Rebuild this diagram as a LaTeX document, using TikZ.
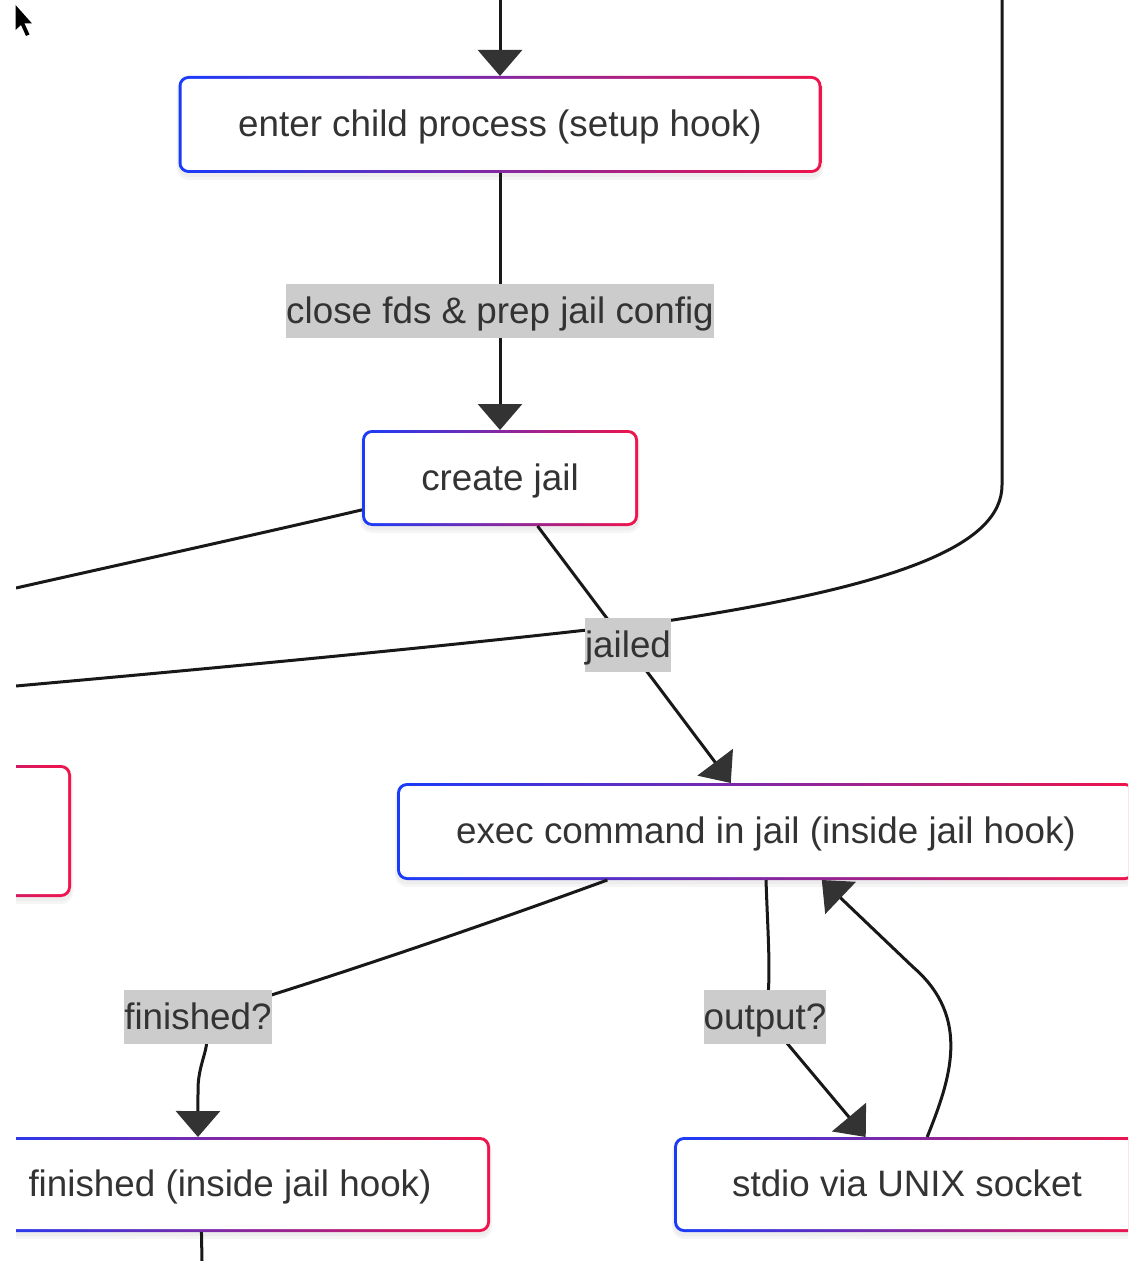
\documentclass[tikz,border=0pt]{standalone}
\usepackage{fontspec}
\setmainfont{Liberation Sans}
\usetikzlibrary{arrows.meta,backgrounds}

\definecolor{gblue}{RGB}{25,60,250}
\definecolor{gred}{RGB}{240,20,75}
\definecolor{txt}{RGB}{51,51,51}
\definecolor{edgec}{RGB}{24,24,24}
\definecolor{tipc}{RGB}{51,51,51}
\definecolor{lblbg}{RGB}{204,204,204}
\newcommand{\flowfont}{\fontsize{18.4pt}{27pt}\selectfont}

\tikzset{
  % rounded box with a blue-to-red gradient outline
  gbox/.style={rounded corners=5pt, inner sep=0pt, outer sep=0pt, fill=white,
    text=txt, font=\flowfont, text height=16pt, text depth=3.8pt,
    path picture={
      \shade[left color=gblue, right color=gred]
        (path picture bounding box.south west) rectangle (path picture bounding box.north east);
      \fill[white, rounded corners=3.6pt]
        ([shift={(1.5pt,1.5pt)}]path picture bounding box.south west) rectangle
        ([shift={(-1.5pt,-1.5pt)}]path picture bounding box.north east);
    }},
  link/.style={draw=edgec, line width=1.5pt},
  arr/.style={link, -{Triangle[length=13pt,width=22pt,color=tipc]}},
  lbl/.style={fill=lblbg, inner sep=0pt, minimum height=27pt, text=txt, font=\flowfont,
    text height=16pt, text depth=3.8pt},
}

\begin{document}
\begin{tikzpicture}[x=0.5pt,y=-0.5pt]
\useasboundingbox (0,0) rectangle (1128,1261);

\begin{scope}
\clip (16,0) rectangle (1128,1261);

% process boxes
\node[gbox, minimum width=321.5pt, minimum height=48.5pt] (A) at (500,124.5) {enter child process (setup hook)};
\node[gbox, minimum width=138pt, minimum height=48pt] (B) at (500,478) {create jail};
\node[gbox, minimum width=221pt, minimum height=66pt] (C) at (-150,831) {};
\node[gbox, minimum width=369pt, minimum height=48.5pt] (D) at (766,831.5) {exec command in jail (inside jail hook)};
\node[gbox, minimum width=260pt, minimum height=47.5pt] (E) at (230,1184.5) {finished (inside jail hook)};
\node[gbox, minimum width=233pt, minimum height=47.5pt] (F) at (907,1184.5) {stdio via UNIX socket};

% free ends and label anchors
\coordinate (topin) at (500,0);
\coordinate (rtop) at (1002,0);
\coordinate (rbend) at (1002,485);
\coordinate (rjoin) at (673,620);
\coordinate (lout1) at (16,588);
\coordinate (lout2) at (16,686);
\coordinate (ebot) at (202,1261);
\coordinate (l1) at (500,311);
\coordinate (l2) at (628,645);
\coordinate (l3) at (198,1017);
\coordinate (l4) at (765,1017);

% connectors
\draw[arr] (topin) -- (A.north);
\draw[arr] (A.south) -- (B.north);
\draw[link] (rtop) -- (rbend) .. controls (1002,545) and (900,585) .. (rjoin)
  .. controls (500,641) and (250,665) .. (lout2);
\draw[link] (B.193) .. controls (250,536) and (100,569) .. (lout1);
\draw[arr] (B.-52) -- (D.126.6);
\draw[arr] (D.197) .. controls (430,945) and (260,1000) .. (l3)
  .. controls (218,1042) and (198,1055) .. (198,1090) -- (E.124);
\draw[arr] (D.south) .. controls (768,940) and (772,985) .. (l4) -- (F.131.5);
\draw[arr] (F.67) .. controls (950,1080) and (972,1018) .. (913,967) -- (D.-41);
\draw[link] (E.239.5) -- (ebot);

% edge labels
\node[lbl] (t1) at (l1) {close fds \& prep jail config};
\node[lbl] (t2) at (l2) {jailed};
\node[lbl] (t3) at (l3) {finished?};
\node[lbl] (t4) at (l4) {output?};
\end{scope}

% mouse pointer
\fill[black] (15.5,5) -- (15.5,30) -- (21,25) -- (26,36) -- (29.5,34.5) -- (24.5,23.5) -- (32,23.5) -- cycle;

% page and soft shadows under the boxes
\begin{pgfonlayer}{background}
\fill[white] (0,0) rectangle (1128,1261);
\begin{scope}
\clip (16,0) rectangle (1128,1261);
\foreach \n in {A,B,C,D,E,F}{
  \fill[black, opacity=.04, rounded corners=6pt]
    ([shift={(-1pt,-3.5pt)}]\n.south west) rectangle ([shift={(1pt,-1pt)}]\n.north east);
  \fill[black, opacity=.03, rounded corners=5pt]
    ([shift={(-0.3pt,-2pt)}]\n.south west) rectangle ([shift={(0.3pt,-1pt)}]\n.north east);
}
\end{scope}
\end{pgfonlayer}
\end{tikzpicture}
\end{document}
